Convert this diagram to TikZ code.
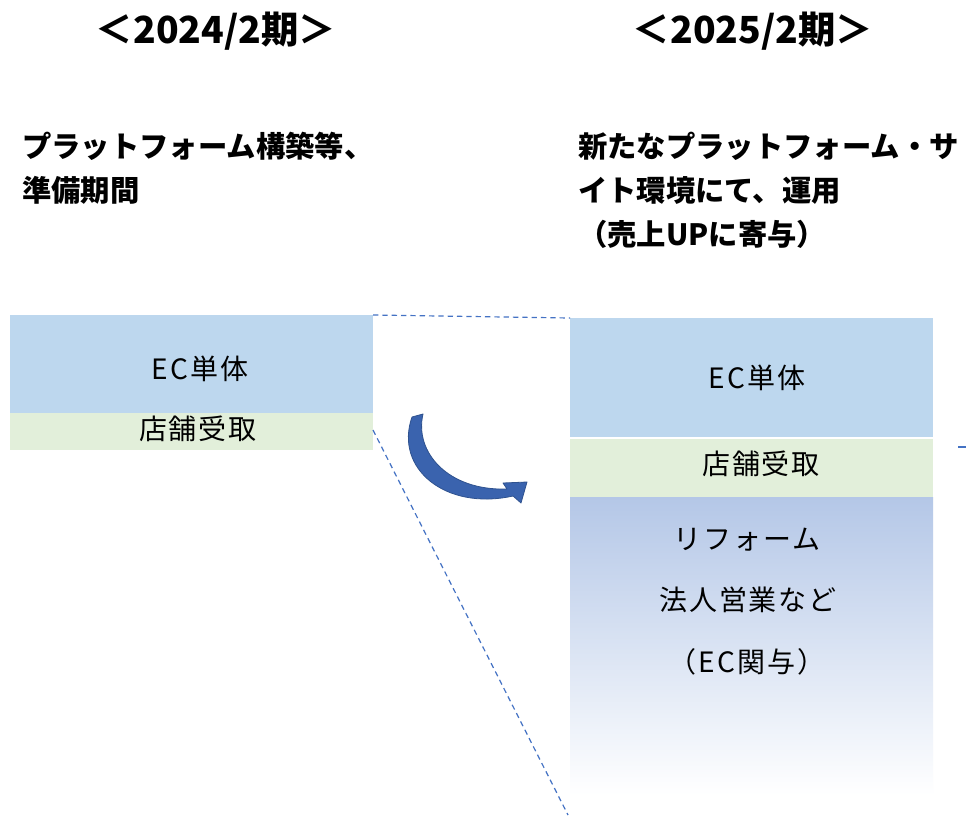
\documentclass[tikz,border=0pt]{standalone}
\usepackage{fontspec}
\setmainfont{Noto Sans CJK JP}
\newfontfamily\boxfont[LetterSpace=7]{Noto Sans CJK JP}
\usetikzlibrary{calc}
\definecolor{boxblue}{HTML}{BDD7EE}
\definecolor{boxgreen}{HTML}{E2EFDA}
\definecolor{gradtop}{HTML}{B4C7E7}
\definecolor{gradmid}{HTML}{D6E0F5}
\definecolor{dashblue}{HTML}{4472C4}
\definecolor{arrowfill}{HTML}{3A63AE}
\definecolor{arrowline}{HTML}{2F528F}
\tikzset{
  px/.style={x=0.75pt,y=-0.75pt},
  rectbox/.style={rectangle,inner sep=0pt,outer sep=0pt,draw=none,minimum width=272.25pt},
  titletext/.style={font=\bfseries\fontsize{28}{32}\selectfont,inner sep=0pt},
  headtext/.style={font=\bfseries\fontsize{22}{26}\selectfont,inner sep=0pt,anchor=west},
  boxtext/.style={font=\boxfont\fontsize{21}{25}\selectfont,inner sep=0pt},
  dashline/.style={draw=dashblue,line width=0.9pt,dash pattern=on 4pt off 3pt}
}
\begin{document}
\begin{tikzpicture}[px]
\useasboundingbox (0,0) rectangle (966,817);
\fill[white] (0,0) rectangle (966,817);
% titles
\node[titletext] (t1) at (216,31) {＜2024/2期＞};
\node[titletext] (t2) at (753,31) {＜2025/2期＞};
% headings
\node[headtext] (h1a) at (22,146) {プラットフォーム構築等、};
\node[headtext] (h1b) at (22,190) {準備期間};
\node[headtext] (h2a) at (578,146) {新たなプラットフォーム・サ};
\node[headtext] (h2b) at (578,190) {イト環境にて、運用};
\node[headtext] (h2c) at (578,234) {（売上UPに寄与）};
% left boxes
\node[rectbox,fill=boxblue,minimum height=73.5pt] (lblue) at (191.5,364) {};
\node[rectbox,fill=boxgreen,minimum height=27.75pt] (lgreen) at (191.5,431.5) {};
\node[boxtext] (lec) at (200,369) {EC単体};
\node[boxtext] (lst) at (198,429) {店舗受取};
% right boxes
\node[rectbox,fill=boxblue,minimum height=89.25pt] (rblue) at (751.5,377.5) {};
\node[rectbox,fill=boxgreen,minimum height=43.5pt] (rgreen) at (751.5,468) {};
\node[rectbox,top color=gradtop,middle color=gradmid,bottom color=white,minimum height=223.5pt] (rgrad) at (751.5,646) {};
\node[boxtext] (rec) at (757,378) {EC単体};
\node[boxtext] (rst) at (761,464) {店舗受取};
\node[boxtext] (rr1) at (747,540) {リフォーム};
\node[boxtext] (rr2) at (748,600) {法人営業など};
\node[boxtext] (rr3) at (747,662) {（EC関与）};
% dashed connectors
\coordinate (dend) at (568,815);
\draw[dashline] (lblue.north east) -- (rblue.north west);
\draw[dashline] ($(lgreen.north east)+(0,17)$) -- (dend);
% small segment at right edge
\coordinate (e1) at (958,447);
\coordinate (e2) at (966,447);
\draw[dashblue,line width=1.5pt] (e1) -- (e2);
% curved arrow
\fill[arrowfill,draw=arrowline,line width=0.6pt,line join=round]
  (412,417) -- (423,414)
  .. controls (414,452) and (448,491) .. (507,489)
  -- (503,483) -- (527,482) -- (521,503) -- (513,496)
  .. controls (445,511) and (394,468) .. (412,417) -- cycle;
\end{tikzpicture}
\end{document}
